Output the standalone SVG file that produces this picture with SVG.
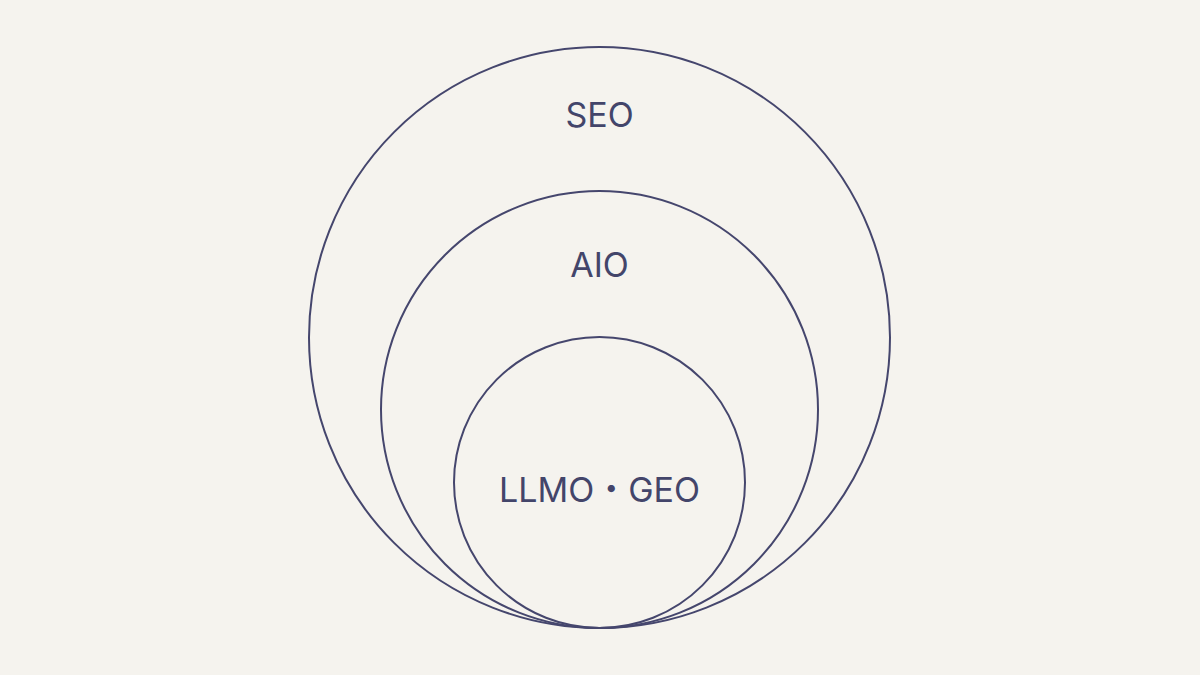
<svg xmlns="http://www.w3.org/2000/svg" width="1200" height="675" viewBox="0 0 1200 675">
<style>
.c{fill:none;stroke:#45466d;stroke-width:2}
.t{font-family:Inter,"Noto Sans","Noto Sans CJK JP",sans-serif;font-size:34px;fill:#43456a;text-anchor:middle}
</style>
<rect width="1200" height="675" fill="#f5f3ee"/>
<g id="seo"><circle class="c" cx="599.5" cy="337.5" r="290.5"/><text class="t" x="599.5" y="127">SEO</text></g>
<g id="aio"><circle class="c" cx="599.5" cy="409.5" r="218.5"/><text class="t" x="599.5" y="277">AIO</text></g>
<g id="llmo-geo"><circle class="c" cx="599.5" cy="482.5" r="145.5"/><text class="t" x="599.5" y="502">LLMO・GEO</text></g>
<g id="connectors"/>
</svg>
